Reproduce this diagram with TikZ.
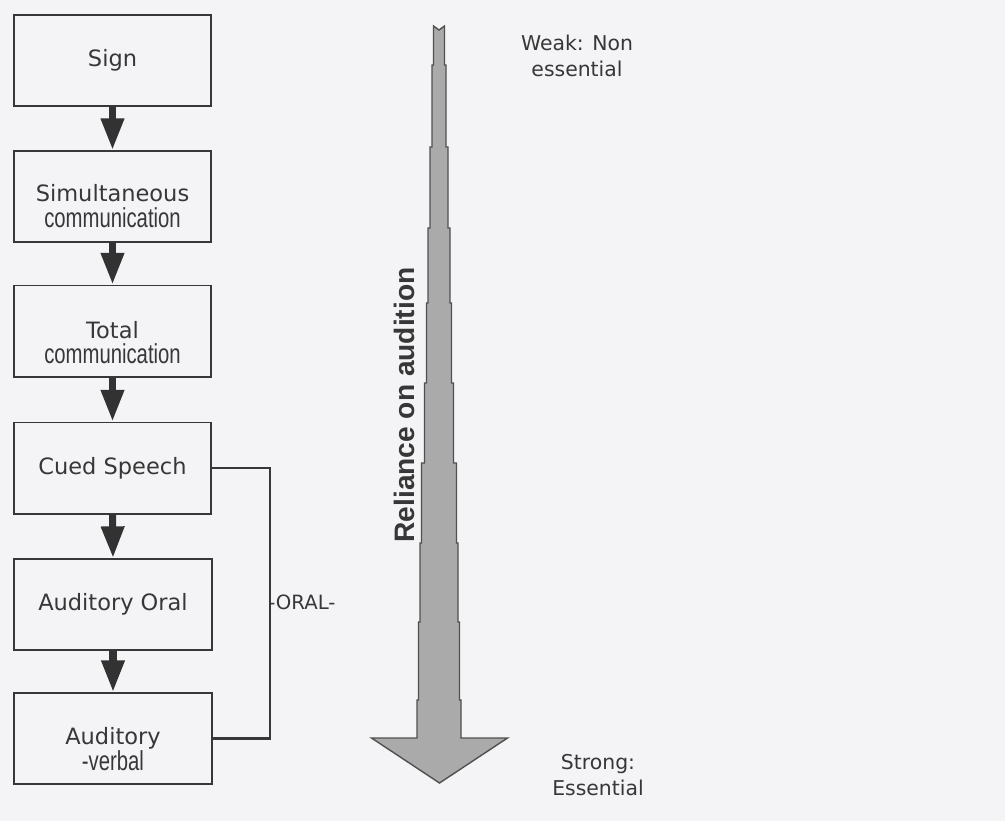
\documentclass[tikz,border=0pt]{standalone}
\usepackage{fontspec}
\setmainfont{DejaVu Sans}
\newfontfamily\narrowfont{Liberation Sans}
\newfontfamily\condfont[FakeStretch=0.74]{Liberation Sans}
\usetikzlibrary{arrows.meta}
\definecolor{bg}{RGB}{244,244,246}
\definecolor{ink}{RGB}{55,55,55}
\definecolor{arrowink}{RGB}{50,50,50}
\definecolor{shaftfill}{RGB}{170,170,170}
\definecolor{shaftline}{RGB}{80,80,80}
\begin{document}
\begin{tikzpicture}[x=0.025cm,y=-0.025cm,
  stagebox/.style={draw=ink, line width=1.4pt, minimum width=4.925cm, minimum height=2.275cm, inner sep=0pt},
  stagetext/.style={text=ink, font=\fontsize{16}{18}\selectfont, align=center, inner sep=0pt},
  flow/.style={draw=arrowink, line width=5pt, -{Triangle[length=22.5pt,width=15.6pt]}},
  bracket/.style={draw=ink, line width=2pt},
  sidelabel/.style={text=ink, font=\fontsize{14.5}{18.5}\selectfont, align=center, inner sep=0pt},
  bigarrow/.style={draw=shaftline, fill=shaftfill, line width=1pt, line join=miter}
]
\fill[bg] (0,0) rectangle (1005,821);
\useasboundingbox (0,0) rectangle (1005,821);

% stage boxes
\node[stagebox] (sign)  at (112.5,60.5)  {};
\node[stagebox] (sim)   at (112.5,196.5) {};
\node[stagebox] (total) at (112.5,331)   {};
\node[stagebox] (cued)  at (112.5,468)   {};
\node[stagebox] (ao)    at (113,604.5)   {};
\node[stagebox] (av)    at (113,738.5)   {};

% stage texts
\node[stagetext] (signT)  at (112.5,60.5) {Sign};
\node[stagetext] (simT)   at (112.5,206)  {Simultaneous\\{\condfont\fontsize{19.5}{18}\selectfont communication}};
\node[stagetext] (totalT) at (112.5,342.5) {Total\\{\condfont\fontsize{19.5}{18}\selectfont communication}};
\node[stagetext] (cuedT)  at (112.5,468)  {Cued Speech};
\node[stagetext] (aoT)    at (113,604)    {Auditory Oral};
\node[stagetext] (avT) at (113,749) {Auditory\\{\condfont\fontsize{19.5}{18}\selectfont -verbal}};

% flow arrows
\draw[flow] (sign.south)  -- (sim.north);
\draw[flow] (sim.south)   -- (total.north);
\draw[flow] (total.south) -- (cued.north);
\draw[flow] (cued.south)  -- (ao.north);
\draw[flow] (ao.south)    -- (av.north);

% ORAL bracket
\draw[bracket] (cued.east) -- ++(58,0) |- (av.east);
\node[text=ink, font=\fontsize{14}{16}\selectfont, anchor=west, inner sep=0pt] (oral) at (268,602) {-ORAL-};

% big stepped arrow
\draw[bigarrow]
  (433.5,26) -- (433.5,65) -- (432,65) -- (432,147) -- (430,147) -- (430,228)
  -- (428,228) -- (428,303) -- (426.5,303) -- (426.5,383) -- (424.5,383) -- (424.5,463)
  -- (421.5,463) -- (421.5,543) -- (420,543) -- (420,622) -- (418.5,622) -- (418.5,700)
  -- (417,700) -- (417,738) -- (371.5,738) -- (439.5,783) -- (507.5,738)
  -- (461,738) -- (461,700) -- (459.5,700) -- (459.5,622) -- (458,622) -- (458,543)
  -- (456.5,543) -- (456.5,463) -- (453.5,463) -- (453.5,383) -- (451.5,383) -- (451.5,303)
  -- (450,303) -- (450,228) -- (448,228) -- (448,147) -- (446,147) -- (446,65)
  -- (444.5,65) -- (444.5,26) -- (439,30) -- cycle;

\node[text=ink, font=\narrowfont\bfseries\fontsize{20}{22}\selectfont, rotate=90, inner sep=0pt] (reliance) at (404,405) {Reliance on audition};

\node[sidelabel] (weak)   at (577,56)    {Weak: Non\\essential};
\node[sidelabel] (strong) at (598,775.5) {Strong:\\Essential};
\end{tikzpicture}
\end{document}
